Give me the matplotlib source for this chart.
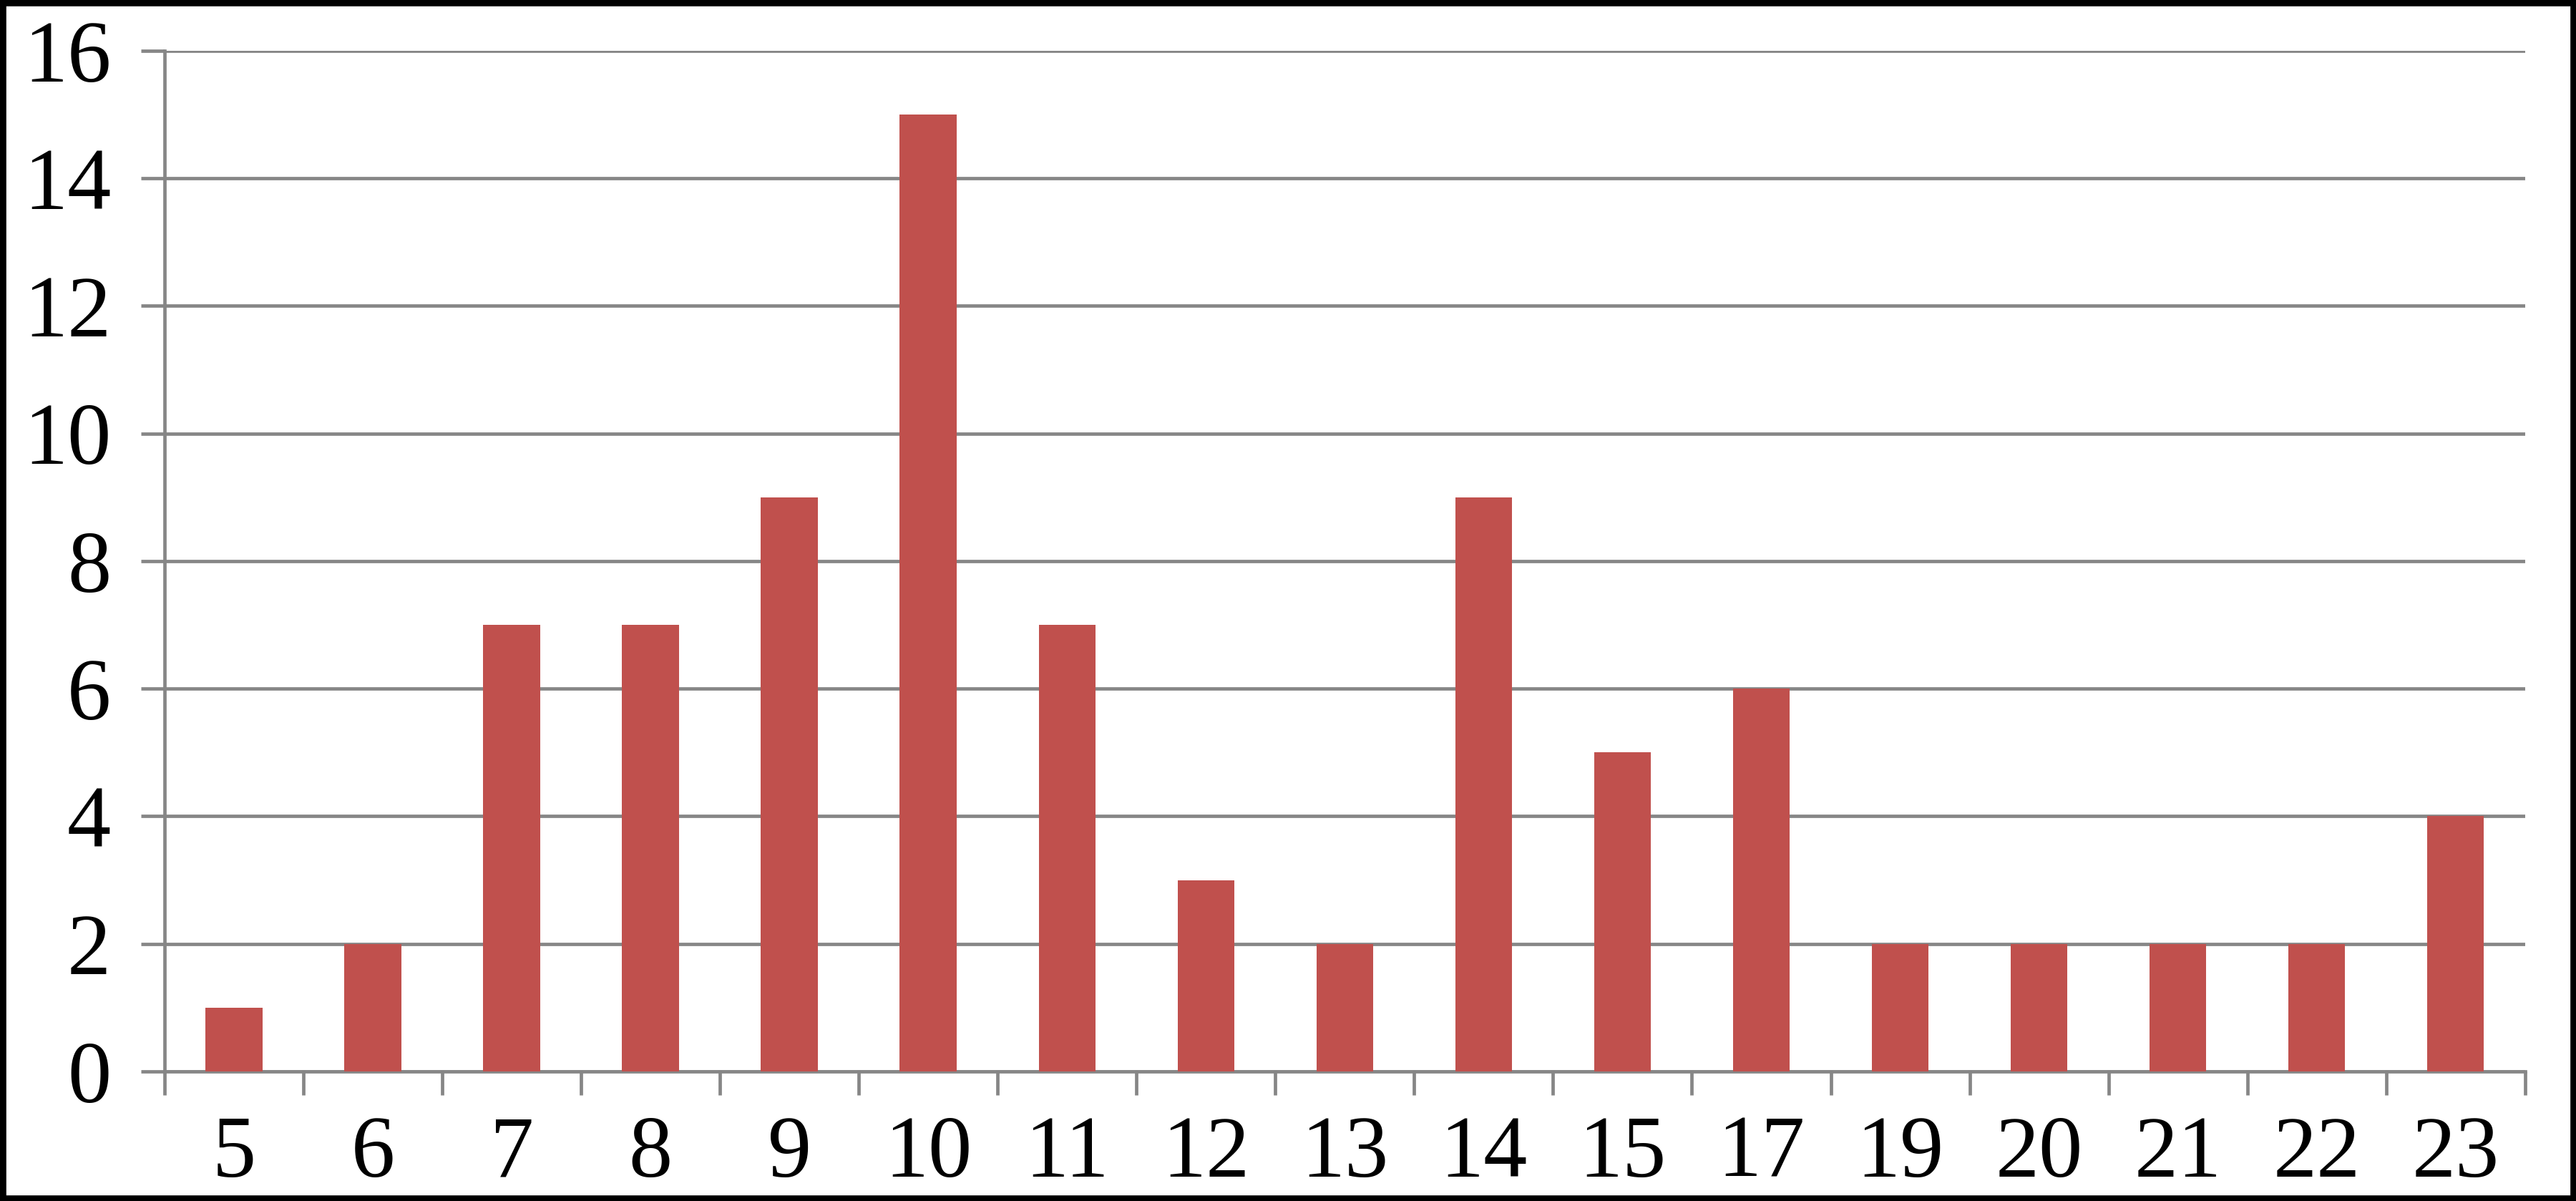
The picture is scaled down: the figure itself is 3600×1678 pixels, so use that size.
#!/usr/bin/env python3
"""Столбчатая диаграмма с серыми линиями сетки"""

import matplotlib
matplotlib.use('Agg')
import matplotlib.pyplot as plt
from matplotlib.patches import Rectangle
import numpy as np

categories = ['5', '6', '7', '8', '9', '10', '11', '12', '13', '14',
              '15', '17', '19', '20', '21', '22', '23']
counts = [1, 2, 7, 7, 9, 15, 7, 3, 2, 9, 5, 6, 2, 2, 2, 2, 4]
y_ticks = [0, 2, 4, 6, 8, 10, 12, 14, 16]

BAR_COLOR = '#C0504D'
GRID_COLOR = '#868686'

plt.rcParams['font.family'] = ['Liberation Serif', 'DejaVu Serif']

fig = plt.figure(figsize=(36, 16.78), dpi=100)
ax = fig.add_axes([0.0639, 0.1079, 0.9163, 0.8498])

x = np.arange(len(categories))
ax.bar(x, counts, width=0.41, color=BAR_COLOR, zorder=3)

ax.set_xlim(-0.5, len(categories) - 0.5)
ax.set_ylim(0, 16)
ax.set_yticks(y_ticks)
ax.yaxis.grid(True, color=GRID_COLOR, linewidth=3.4, zorder=0)
ax.set_axisbelow(True)

# подписи по центрам, засечки на границах категорий
ax.set_xticks(x)
ax.set_xticklabels(categories)
ax.set_xticks(np.arange(len(categories) + 1) - 0.5, minor=True)
ax.tick_params(axis='x', which='major', length=0, pad=44, labelsize=88)
ax.tick_params(axis='x', which='minor', length=24, width=3.4, color=GRID_COLOR)
ax.tick_params(axis='y', which='major', length=24, width=3.4, color=GRID_COLOR,
               pad=30, labelsize=88)

for side in ('top', 'right'):
    ax.spines[side].set_visible(False)
for side in ('left', 'bottom'):
    ax.spines[side].set_color(GRID_COLOR)
    ax.spines[side].set_linewidth(3.4)

# чёрная рамка вокруг всей картинки
fig.patches.append(Rectangle((0, 0), 1, 1, transform=fig.transFigure,
                             fill=False, edgecolor='black', linewidth=12))

fig.savefig('out.png', dpi=100)
